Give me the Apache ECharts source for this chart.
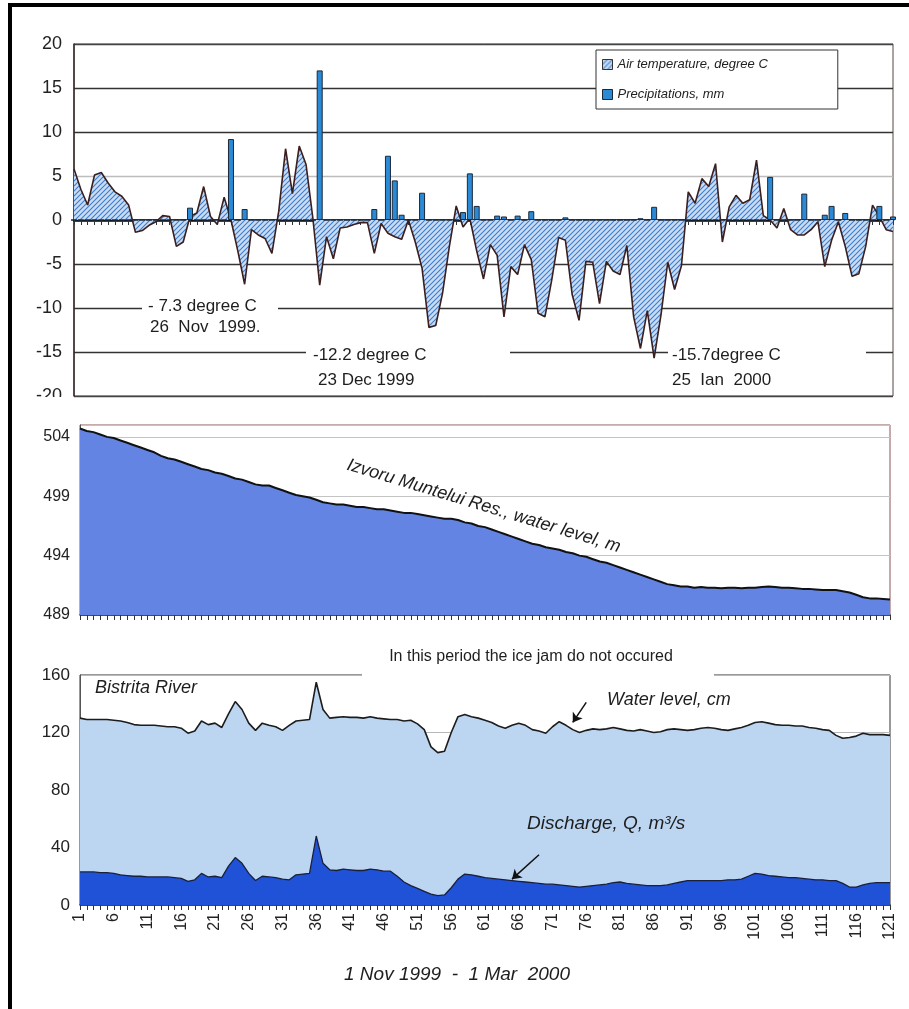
<!DOCTYPE html>
<html>
<head>
<meta charset="utf-8">
<script src="https://cdn.jsdelivr.net/npm/echarts@6/dist/echarts.min.js"></script>
<style>
  html, body { margin: 0; padding: 0; background: #fff; }
  #chart { width: 909px; height: 1009px; }
</style>
</head>
<body>
<div id="chart"></div>
<script>
// Day numbers, 1 Nov 1999 .. 1 Mar 2000
const days = Array.from({ length: 121 }, (_, i) => String(i + 1));

// Daily air temperature, degree C
const airTemperature = [
  5.8, 3.5, 1.7, 5.1, 5.4, 4.2, 3.2, 2.7, 1.7, -1.4,
  -1.2, -0.6, -0.2, 0.5, 0.4, -3.0, -2.5, 0.4, 0.8, 3.8,
  0.4, -0.5, 2.6, 0.0, -3.5, -7.3, -1.1, -1.7, -2.1, -3.8,
  1.0, 8.1, 3.0, 8.4, 6.3, 0.2, -7.4, -1.9, -4.4, -0.9,
  -0.8, -0.5, -0.3, -0.3, -3.8, -0.4, -1.5, -1.9, -2.2, 0.0,
  -2.5, -5.5, -12.2, -12.0, -8.3, -3.0, 1.6, -0.8, 0.2, -3.5,
  -6.7, -2.8, -4.0, -11.0, -5.3, -6.2, -2.8, -4.5, -10.6, -11.0,
  -6.8, -2.0, -2.3, -8.5, -11.4, -4.7, -4.8, -9.5, -4.7, -5.8,
  -6.2, -2.9, -11.0, -14.6, -10.3, -15.7, -10.8, -4.8, -7.9, -5.2,
  3.2, 1.9, 4.7, 3.8, 6.4, -2.5, 1.5, 2.8, 1.9, 2.3,
  6.8, 0.5, 0.0, -0.9, 1.3, -1.1, -1.7, -1.7, -1.1, -0.2,
  -5.3, -2.3, -0.2, -3.0, -6.4, -6.1, -3.0, 1.7, 0.4, -1.1,
  -1.3
];

// Daily precipitation, mm
const precipitation = [
  0, 0, 0, 0, 0, 0, 0, 0, 0, 0,
  0, 0, 0, 0, 0, 0, 0, 1.4, 0, 0,
  0, 0, 0, 9.2, 0, 1.25, 0, 0, 0, 0,
  0, 0, 0, 0, 0, 0, 17.0, 0, 0, 0,
  0, 0, 0, 0, 1.25, 0, 7.3, 4.5, 0.6, 0,
  0, 3.1, 0, 0, 0, 0, 0, 0.9, 5.3, 1.6,
  0, 0, 0.5, 0.4, 0, 0.5, 0, 1.0, 0, 0,
  0, 0, 0.3, 0, 0, 0, 0, 0, 0, 0,
  0, 0, 0, 0.2, 0, 1.5, 0, 0, 0, 0,
  0, 0, 0, 0, 0, 0, 0, 0, 0, 0,
  0, 0, 4.9, 0, 0, 0, 0, 3.0, 0, 0,
  0.6, 1.6, 0, 0.8, 0, 0, 0, 0, 1.6, 0,
  0.4
];

// Izvoru Muntelui reservoir water level, m
const reservoirLevel = [
  504.7, 504.5, 504.4, 504.2, 504.0, 503.9, 503.7, 503.5, 503.3, 503.1,
  502.9, 502.7, 502.4, 502.2, 502.1, 501.9, 501.7, 501.5, 501.3, 501.2,
  501.0, 500.9, 500.7, 500.5, 500.4, 500.2, 500.0, 499.9, 499.9, 499.7,
  499.5, 499.3, 499.1, 499.0, 498.9, 498.7, 498.5, 498.4, 498.3, 498.3,
  498.2, 498.1, 498.1, 498.0, 497.9, 497.9, 497.8, 497.7, 497.6, 497.6,
  497.5, 497.4, 497.3, 497.2, 497.1, 497.1, 497.0, 496.8, 496.7, 496.5,
  496.4, 496.2, 496.0, 495.8, 495.6, 495.4, 495.2, 495.0, 494.9, 494.7,
  494.6, 494.5, 494.3, 494.2, 494.0, 493.9, 493.7, 493.5, 493.4, 493.2,
  493.0, 492.8, 492.6, 492.4, 492.2, 492.0, 491.8, 491.6, 491.5, 491.4,
  491.4, 491.3, 491.35, 491.3, 491.3, 491.25, 491.3, 491.3, 491.25, 491.3,
  491.3, 491.35, 491.4, 491.35, 491.3, 491.3, 491.25, 491.2, 491.2, 491.15,
  491.1, 491.1, 491.1, 491.0, 490.9, 490.7, 490.5, 490.4, 490.4, 490.35,
  490.3
];

// Bistrita River water level, cm
const riverLevel = [
  130, 129, 129, 129, 129, 128.5, 128, 127, 125.5, 125,
  125, 125, 124.5, 124, 124, 123, 119.5, 121, 128, 125.5,
  126.5, 123.5, 133, 141.5, 136, 126.5, 121.5, 126.5, 125, 124,
  121.5, 125, 128, 128.5, 129, 155, 136, 130, 130.5, 131,
  130.5, 130.5, 130, 131, 130, 129.5, 129, 129, 128, 128.5,
  126, 122, 110, 106, 107, 120, 131, 132.5, 131, 130,
  128.5, 127, 124.5, 123, 125, 126.5, 125, 122, 121, 119.5,
  124, 127.5, 125, 122, 120, 121.5, 122.5, 122, 122.5, 123.5,
  122.5, 121.5, 121, 122, 121, 120, 120.5, 122, 122.5, 122,
  121.5, 122, 123, 123.5, 123, 122, 121.5, 122.5, 123.5, 125,
  127, 127.5, 126.5, 125.5, 125, 125, 124.5, 124.5, 123.5, 123,
  122, 121.5, 118, 116, 116.5, 117.5, 119.5, 118.5, 118.5, 118.5,
  118
];

// Bistrita River discharge, m3/s
const discharge = [
  23, 23, 23, 22.5, 22.5, 22, 21, 20.5, 20, 20,
  19.5, 19.5, 19.5, 19.5, 19, 18.5, 16.5, 17.5, 22, 19.5,
  20, 19, 27, 33, 29, 22, 17, 20, 19.5, 19,
  18, 17.5, 21, 21.5, 22, 48, 29, 24.5, 24, 25,
  24.5, 24, 24, 25, 24.5, 23.5, 23.5, 20, 16, 13.5,
  11.5, 9.5, 7.5, 6.5, 7, 12, 18, 21.5, 21, 20,
  19, 18.5, 18, 17.5, 17, 16.5, 16, 15.5, 15, 14.5,
  14.5, 14, 13.5, 13, 12.5, 13, 13.5, 14, 14.5, 15.5,
  16, 15, 14.5, 14, 13.5, 13.5, 13.5, 14, 15, 16,
  17, 17, 17, 17, 17, 17, 17.5, 17.5, 18, 20,
  22, 21.5, 20.5, 20, 19.5, 19, 19, 18.5, 18, 17.5,
  17.5, 17, 17, 15, 12.5, 12.5, 14, 15, 15.5, 15.5,
  15.5
];

// Diagonal hatch used for the temperature area
function hatchPattern() {
  const s = 5;
  const c = document.createElement('canvas');
  c.width = s; c.height = s;
  const g = c.getContext('2d');
  g.fillStyle = '#cadcf3';
  g.fillRect(0, 0, s, s);
  g.strokeStyle = '#3d7dcc';
  g.lineWidth = 1.1;
  g.beginPath();
  g.moveTo(0, s); g.lineTo(s, 0);
  g.moveTo(-1, 1); g.lineTo(1, -1);
  g.moveTo(s - 1, s + 1); g.lineTo(s + 1, s - 1);
  g.stroke();
  return c;
}
const hatch = { image: hatchPattern(), repeat: 'repeat' };

const chart = echarts.init(document.getElementById('chart'), null, { renderer: 'canvas' });

const baseX = (grid) => ({
  gridIndex: grid,
  type: 'category',
  data: days,
  boundaryGap: false,
  axisLabel: { show: false },
  axisTick: { interval: 0, length: 5, lineStyle: { color: '#333', width: 1 } },
  splitLine: { show: false }
});

const whiteBox = (x, y, w, h) => ({
  type: 'rect', z: 100, silent: true,
  shape: { x, y, width: w, height: h },
  style: { fill: '#fff' }
});
const note = (x, y, text, font, extra) => Object.assign({
  type: 'text', z: 101, silent: true, x, y,
  style: Object.assign({ text, font, fill: '#1e1e1e', align: 'left', verticalAlign: 'middle' }, (extra && extra.style) || {})
}, (extra && extra.el) || {});

chart.setOption({
  animation: false,
  backgroundColor: '#fff',
  grid: [
    { left: 74, right: 16, top: 44, height: 352, show: true, borderColor: '#5a4444', borderWidth: 1 },
    { left: 80, right: 19, top: 425, height: 190, show: true, borderColor: '#8a5656', borderWidth: 1 },
    { left: 80, right: 19, top: 675, height: 230, show: true, borderColor: '#333', borderWidth: 1 }
  ],
  legend: {
    orient: 'vertical',
    left: 596, top: 50,
    backgroundColor: '#fff',
    borderColor: '#333', borderWidth: 1,
    padding: [8, 70, 8, 6],
    itemGap: 17,
    itemWidth: 10, itemHeight: 10,
    textStyle: { fontFamily: 'Arial', fontStyle: 'italic', fontSize: 13, color: '#222' },
    data: [
      { name: 'Air temperature, degree C', icon: 'rect',
        itemStyle: { color: hatch, borderColor: '#333', borderWidth: 1 } },
      { name: 'Precipitations, mm', icon: 'rect',
        itemStyle: { color: '#2b8ad6', borderColor: '#1b2838', borderWidth: 1 } }
    ]
  },
  xAxis: [
    Object.assign(baseX(0), {
      axisLine: { onZero: true, lineStyle: { color: '#141010', width: 2.5 } }
    }),
    Object.assign(baseX(1), {
      axisLine: { lineStyle: { color: '#222', width: 1.5 } }
    }),
    Object.assign(baseX(2), {
      axisLine: { lineStyle: { color: '#222', width: 1.5 } },
      axisLabel: { show: true, interval: 4, rotate: 90, fontFamily: 'Arial', fontSize: 16, color: '#222', margin: 8 }
    })
  ],
  yAxis: [
    {
      gridIndex: 0, type: 'value', min: -20, max: 20, interval: 5,
      axisLine: { show: true, lineStyle: { color: '#3a2a2a', width: 1.5 } },
      axisTick: { show: false },
      axisLabel: { fontFamily: 'Arial', fontSize: 18, color: '#222', margin: 12 },
      splitLine: { lineStyle: { width: 1.3,
        color: ['#444', '#333', '#333', '#333', '#333', '#bdbdbd', '#333', '#333', '#444'] } }
    },
    {
      gridIndex: 1, type: 'value', min: 489, max: 505, interval: 5,
      axisLine: { show: true, lineStyle: { color: '#555', width: 1 } },
      axisTick: { show: false },
      axisLabel: { showMaxLabel: false, fontFamily: 'Arial', fontSize: 16, color: '#222', margin: 10 },
      splitLine: { lineStyle: { color: '#c4c4c4', width: 1.2 } }
    },
    {
      gridIndex: 2, type: 'value', min: 0, max: 160, interval: 40,
      axisLine: { show: true, lineStyle: { color: '#555', width: 1 } },
      axisTick: { show: false },
      axisLabel: { fontFamily: 'Arial', fontSize: 17, color: '#222', margin: 10 },
      splitLine: { lineStyle: { color: '#b8b8b8', width: 1.2 } }
    }
  ],
  series: [
    {
      name: 'Air temperature, degree C', type: 'line',
      xAxisIndex: 0, yAxisIndex: 0, data: airTemperature,
      symbol: 'none', z: 2,
      lineStyle: { color: '#3b1e1e', width: 1.6 },
      areaStyle: { color: hatch, opacity: 1 }
    },
    {
      name: 'Precipitations, mm', type: 'bar',
      xAxisIndex: 0, yAxisIndex: 0, data: precipitation,
      barWidth: 6, z: 3,
      itemStyle: { color: '#2b8ad6', borderColor: '#1b2838', borderWidth: 1 }
    },
    {
      name: 'Reservoir level', type: 'line',
      xAxisIndex: 1, yAxisIndex: 1, data: reservoirLevel,
      symbol: 'none',
      lineStyle: { color: '#111', width: 2 },
      areaStyle: { color: '#6384e2', origin: 'start', opacity: 1 }
    },
    {
      name: 'River level', type: 'line',
      xAxisIndex: 2, yAxisIndex: 2, data: riverLevel,
      symbol: 'none',
      lineStyle: { color: '#1c1c1c', width: 1.6 },
      areaStyle: { color: '#bcd5f1', origin: 'start', opacity: 1 },
      markLine: {
        silent: true, animation: false,
        symbol: ['none', 'arrow'], symbolSize: 9,
        label: { show: false },
        lineStyle: { color: '#111', width: 1.5, type: 'solid' },
        data: [[{ coord: ['76', 141] }, { coord: ['74', 127] }]]
      }
    },
    {
      name: 'Discharge', type: 'line',
      xAxisIndex: 2, yAxisIndex: 2, data: discharge,
      symbol: 'none',
      lineStyle: { color: '#1a1f3a', width: 1.3 },
      areaStyle: { color: '#1f52d6', opacity: 1 },
      markLine: {
        silent: true, animation: false,
        symbol: ['none', 'arrow'], symbolSize: 9,
        label: { show: false },
        lineStyle: { color: '#111', width: 1.5, type: 'solid' },
        data: [[{ coord: ['69', 35] }, { coord: ['65', 18] }]]
      }
    }
  ],
  graphic: [
    // outer frame
    { type: 'rect', z: 100, silent: true, shape: { x: 8, y: 3, width: 901, height: 4 }, style: { fill: '#000' } },
    { type: 'rect', z: 100, silent: true, shape: { x: 8, y: 3, width: 4, height: 1006 }, style: { fill: '#000' } },
    // gaps in the grid lines behind the extreme-temperature notes
    whiteBox(142, 301, 136, 12),
    whiteBox(306, 346, 204, 12),
    whiteBox(668, 346, 198, 12),
    whiteBox(18, 397, 54, 22),
    whiteBox(362, 672, 352, 6),
    note(148, 306, '- 7.3 degree C', '17px Arial'),
    note(150, 327, '26  Nov  1999.', '17px Arial'),
    note(313, 355, '-12.2 degree C', '17px Arial'),
    note(318, 380, '23 Dec 1999', '17px Arial'),
    note(672, 355, '-15.7degree C', '17px Arial'),
    note(672, 380, '25  Ian  2000', '17px Arial'),
    note(350, 456, 'Izvoru Muntelui Res., water level, m', 'italic 18px Arial',
      { style: { verticalAlign: 'top' }, el: { rotation: -0.295 } }),
    note(531, 657, 'In this period the ice jam do not occured', '16px Arial', { style: { align: 'center' } }),
    note(95, 688, 'Bistrita River', 'italic 18px Arial'),
    note(607, 700, 'Water level, cm', 'italic 18px Arial'),
    note(527, 824, 'Discharge, Q, m³/s', 'italic 19px Arial'),
    note(457, 975, '1 Nov 1999  -  1 Mar  2000', 'italic 19px Arial', { style: { align: 'center' } })
  ]
});
</script>
</body>
</html>
